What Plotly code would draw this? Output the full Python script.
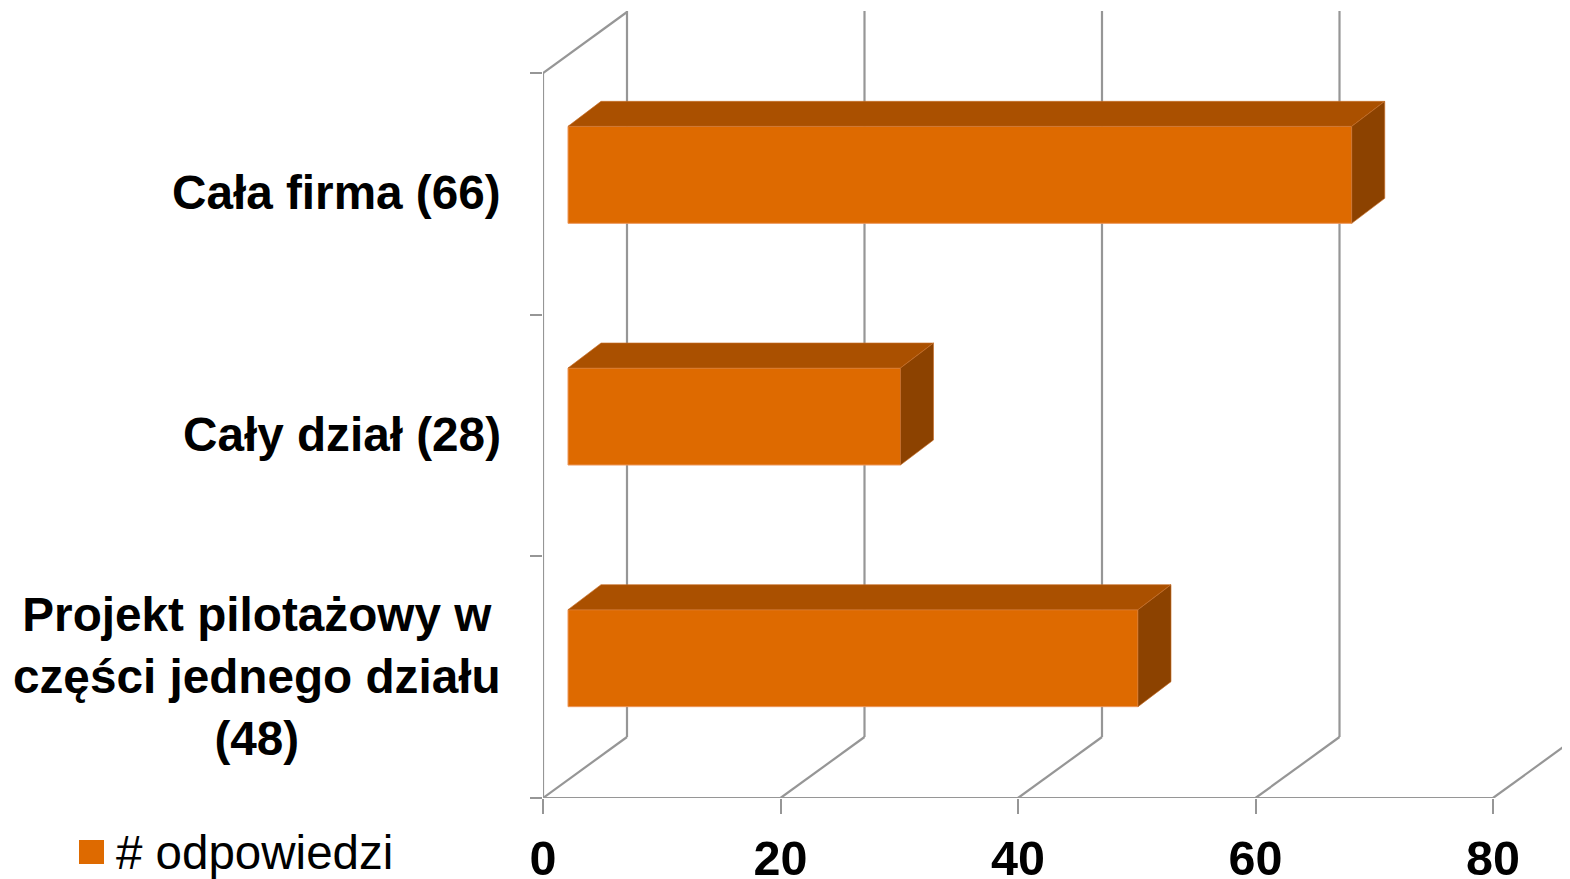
import plotly.graph_objects as go

# ---- data ----
categories = ["Projekt pilotażowy w<br>części jednego działu<br>(48)", "Cały dział (28)", "Cała firma (66)"]
values = [48, 28, 66]
cat_pos = [0, 1, 2]
series_name = "# odpowiedzi"
x_ticks = [0, 20, 40, 60, 80]

# ---- geometry / style (page has an 8px body margin) ----
OFF = 8
W, H = 1570 - OFF, 879 - OFF
ML, MR, MT = 543 - OFF, 0, 11 - OFF
MB = H - (798 - OFF)
PX_X = 11.875          # px per x unit
PX_Y = 241.67          # px per category unit
plot_w = W - ML - MR
plot_h = H - MT - MB
x_range = [0, plot_w / PX_X]
y_range = [-0.5, -0.5 + plot_h / PX_Y]

wall_dx = 84 / PX_X
wall_dy = 61 / PX_Y
bar_base = 25 / PX_X
bar_shift = 19 / PX_Y
bar_h = 97 / PX_Y
bar_dx = 33 / PX_X
bar_dy = 25 / PX_Y

FRONT = "rgb(222,106,0)"
TOP = "rgb(170,80,0)"
SIDE = "rgb(140,66,0)"
EDGE = "rgb(236,150,90)"
GRID = "rgb(150,150,150)"
FONT = "Liberation Sans, Arial, sans-serif"

fig = go.Figure()
fig.add_trace(go.Bar(
    y=[p + bar_shift for p in cat_pos], x=values, base=[bar_base] * len(values),
    orientation="h", width=bar_h, name=series_name,
    marker=dict(color=FRONT, line=dict(color=EDGE, width=1)),
    showlegend=False,
))

shapes = []
ytop_w = 2.5
# walls / grid
for v in x_ticks:
    shapes.append(dict(type="line", xref="x", yref="y", x0=v + wall_dx, x1=v + wall_dx,
                       y0=-0.5 + wall_dy, y1=y_range[1] + 1, layer="below",
                       line=dict(color=GRID, width=2.2)))
    shapes.append(dict(type="line", xref="x", yref="y", x0=v, x1=v + wall_dx,
                       y0=-0.5, y1=-0.5 + wall_dy, layer="below",
                       line=dict(color=GRID, width=2.2)))
# left front axis and top diagonal
shapes.append(dict(type="line", xref="x", yref="y", x0=0, x1=0, y0=-0.5, y1=ytop_w,
                   layer="below", line=dict(color=GRID, width=2.2)))
shapes.append(dict(type="line", xref="x", yref="y", x0=0, x1=wall_dx, y0=ytop_w,
                   y1=ytop_w + wall_dy, layer="below", line=dict(color=GRID, width=2.2)))
# bottom front axis
shapes.append(dict(type="line", xref="x", yref="y", x0=0, x1=x_ticks[-1], y0=-0.5, y1=-0.5,
                   layer="below", line=dict(color=GRID, width=2.2)))

# 3D bar faces
for p, v in zip(cat_pos, values):
    yc = p + bar_shift
    yt, yb = yc + bar_h / 2, yc - bar_h / 2
    x0, x1 = bar_base, bar_base + v
    top = (f"M{x0},{yt} L{x0+bar_dx},{yt+bar_dy} L{x1+bar_dx},{yt+bar_dy} L{x1},{yt} Z")
    side = (f"M{x1},{yt} L{x1+bar_dx},{yt+bar_dy} L{x1+bar_dx},{yb+bar_dy} L{x1},{yb} Z")
    shapes.append(dict(type="path", xref="x", yref="y", path=top, fillcolor=TOP,
                       line=dict(color="rgba(200,110,40,0.8)", width=0.8), layer="above"))
    shapes.append(dict(type="path", xref="x", yref="y", path=side, fillcolor=SIDE,
                       line=dict(color="rgba(200,110,40,0.8)", width=0.8), layer="above"))

# legend marker (paper coords, from page pixels)
def px_to_paper_x(px):
    return (px - OFF - ML) / plot_w

def px_to_paper_y(py):
    return (H - MB - (py - OFF)) / plot_h

shapes.append(dict(type="rect", xref="paper", yref="paper",
                   x0=px_to_paper_x(79), x1=px_to_paper_x(104),
                   y0=px_to_paper_y(864), y1=px_to_paper_y(840),
                   fillcolor=FRONT, line=dict(width=0)))

annotations = []
for p, c in zip(cat_pos, categories):
    annotations.append(dict(x=0, y=p, xref="x", yref="y", text=c, showarrow=False,
                            xanchor="right", yanchor="middle", align="center", xshift=-40,
                            yshift=1,
                            font=dict(family=FONT, size=47.7, color="black", weight="bold")))
annotations.append(dict(x=px_to_paper_x(114), y=px_to_paper_y(852), xref="paper", yref="paper",
                        text=series_name, showarrow=False, xanchor="left", yanchor="middle",
                        font=dict(family=FONT, size=47.5, color="black")))

fig.update_layout(
    width=W, height=H,
    margin=dict(l=ML, r=MR, t=MT, b=MB, pad=0, autoexpand=False),
    paper_bgcolor="white", plot_bgcolor="white",
    shapes=shapes, annotations=annotations,
    showlegend=False,
    xaxis=dict(range=x_range, tickvals=x_ticks, ticktext=[str(t) for t in x_ticks],
               showgrid=False, zeroline=False, showline=False, automargin=False,
               ticks="outside", ticklen=15, tickwidth=2, tickcolor=GRID,
               ticklabelstandoff=3,
               tickfont=dict(family=FONT, size=48.5, color="black", weight="bold"),
               fixedrange=True),
    yaxis=dict(range=y_range, tickvals=[-0.5, 0.5, 1.5, 2.5], ticktext=["", "", "", ""],
               showgrid=False, zeroline=False, showline=False, automargin=False,
               ticks="outside", ticklen=12, tickwidth=2, tickcolor=GRID,
               fixedrange=True),
)

fig.write_html("out.html")
